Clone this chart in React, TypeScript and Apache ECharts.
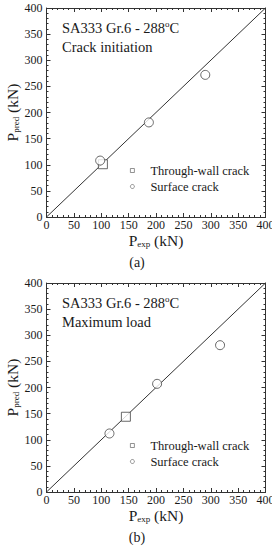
import React, { useEffect, useRef } from "react";
import * as echarts from "echarts";

const FONT = "'Liberation Serif', 'Times New Roman', serif";
const axisMin = 0;
const axisMax = 400;
const axisStep = 50;
const legendNames = ["Through-wall crack", "Surface crack"];
const panelTitles = ["Crack initiation", "Maximum load"];
const panelLabels = ["(a)", "(b)"];
const diagonal = [
  [0, 0],
  [400, 400],
];
const initThroughWall = [[103, 101]];
const initSurface = [
  [98, 108],
  [187, 181],
  [290, 272],
];
const maxThroughWall = [[145, 144]];
const maxSurface = [
  [115, 112],
  [202, 207],
  [317, 281],
];

const panels = [
  { tw: initThroughWall, sc: initSurface, title: panelTitles[0], label: panelLabels[0] },
  { tw: maxThroughWall, sc: maxSurface, title: panelTitles[1], label: panelLabels[1] },
];

const GRID_LEFT = 46.5;
const GRID_W = 219;
const GRID_H = 209;
const GRID_TOPS = [8, 283];
const AX = "#333";
const TXT = "#1a1a1a";

function App() {
  const ref = useRef<HTMLDivElement>(null);
  useEffect(() => {
    if (!ref.current) return;
    const chart = echarts.init(ref.current, undefined, { renderer: "svg" });
    const grids: any[] = [];
    const xAxes: any[] = [];
    const yAxes: any[] = [];
    const series: any[] = [];
    const legends: any[] = [];
    const graphics: any[] = [];

    const tickCommon = {
      axisLine: { show: true, onZero: false, lineStyle: { color: AX, width: 1 } },
      axisTick: { show: true, inside: true, length: 4, lineStyle: { color: AX } },
      minorTick: { show: true, splitNumber: 5, length: 2, lineStyle: { color: AX } },
      splitLine: { show: false },
      minorSplitLine: { show: false },
    };

    const nameRich = {
      p: { fontFamily: FONT, fontSize: 15.5, color: TXT },
      s: { fontFamily: FONT, fontSize: 9, color: TXT, padding: [7.5, 0, 0, 0] },
    };

    panels.forEach((p, i) => {
      const top = GRID_TOPS[i];
      grids.push({
        left: GRID_LEFT,
        top,
        width: GRID_W,
        height: GRID_H,
        containLabel: false,
        outerBoundsMode: "none",
      });
      xAxes.push({
        gridIndex: i,
        type: "value",
        min: axisMin,
        max: axisMax,
        interval: axisStep,
        position: "bottom",
        ...tickCommon,
        axisLabel: { fontFamily: FONT, fontSize: 12, color: TXT, margin: 2 },
        name: "{p|P}{s|exp}{p| (kN)}",
        nameLocation: "middle",
        nameGap: 15,
        nameTextStyle: { rich: nameRich },
      });
      xAxes.push({
        gridIndex: i,
        type: "value",
        min: axisMin,
        max: axisMax,
        interval: axisStep,
        position: "top",
        ...tickCommon,
        axisLabel: { show: false },
      });
      yAxes.push({
        gridIndex: i,
        type: "value",
        min: axisMin,
        max: axisMax,
        interval: axisStep,
        position: "left",
        ...tickCommon,
        axisLabel: { fontFamily: FONT, fontSize: 12, color: TXT, margin: 4 },
        name: "{p|P}{s|pred}{p| (kN)}",
        nameLocation: "middle",
        nameGap: 26,
        nameMoveOverlap: false,
        nameRotate: 90,
        nameTextStyle: { rich: nameRich },
      });
      yAxes.push({
        gridIndex: i,
        type: "value",
        min: axisMin,
        max: axisMax,
        interval: axisStep,
        position: "right",
        ...tickCommon,
        axisLabel: { show: false },
      });
      const xi = i * 2;
      series.push({
        type: "line",
        xAxisIndex: xi,
        yAxisIndex: xi,
        data: diagonal,
        showSymbol: false,
        symbol: "none",
        lineStyle: { color: AX, width: 1 },
        silent: true,
      });
      series.push({
        type: "scatter",
        name: legendNames[0],
        xAxisIndex: xi,
        yAxisIndex: xi,
        data: p.tw,
        symbol: "rect",
        symbolSize: 9,
        itemStyle: { color: "#fff", borderColor: "#444", borderWidth: 1 },
        z: 5,
      });
      series.push({
        type: "scatter",
        name: legendNames[1],
        xAxisIndex: xi,
        yAxisIndex: xi,
        data: p.sc,
        symbol: "circle",
        symbolSize: 9,
        itemStyle: { color: "#fff", borderColor: "#444", borderWidth: 1 },
        z: 5,
      });
      legends.push({
        data: [
          { name: legendNames[0], icon: "rect" },
          { name: legendNames[1], icon: "circle" },
        ],
        orient: "vertical",
        left: 130,
        top: top + 155.5,
        padding: 0,
        itemWidth: 4,
        itemHeight: 4,
        itemGap: 2,
        selectedMode: false,
        itemStyle: { color: "#fff", borderColor: "#555", borderWidth: 0.8 },
        textStyle: {
          fontFamily: FONT,
          fontSize: 12.5,
          color: TXT,
          lineHeight: 14,
          padding: [0, 0, 0, 11],
        },
      });
      graphics.push({
        type: "text",
        left: 62,
        top: top + 10,
        style: {
          text: "SA333 Gr.6 - 288{sup|o}C\n" + p.title,
          fontFamily: FONT,
          fontSize: 14.5,
          lineHeight: 19,
          fill: TXT,
          rich: {
            sup: { fontFamily: FONT, fontSize: 9, fill: TXT, padding: [0, 0, 8, 0] },
          },
        },
      });
      graphics.push({
        type: "text",
        x: 137,
        y: top + 254,
        style: {
          text: p.label,
          fontFamily: FONT,
          fontSize: 14,
          fill: TXT,
          align: "center",
          verticalAlign: "middle",
        },
      });
    });

    chart.setOption({
      animation: false,
      backgroundColor: "#fff",
      grid: grids,
      xAxis: xAxes,
      yAxis: yAxes,
      legend: legends,
      series,
      graphic: graphics,
    });
    return () => chart.dispose();
  }, []);
  return (
    <div
      ref={ref}
      style={{ position: "absolute", left: 0, top: 0, width: 272, height: 551 }}
    />
  );
}

export default App;
